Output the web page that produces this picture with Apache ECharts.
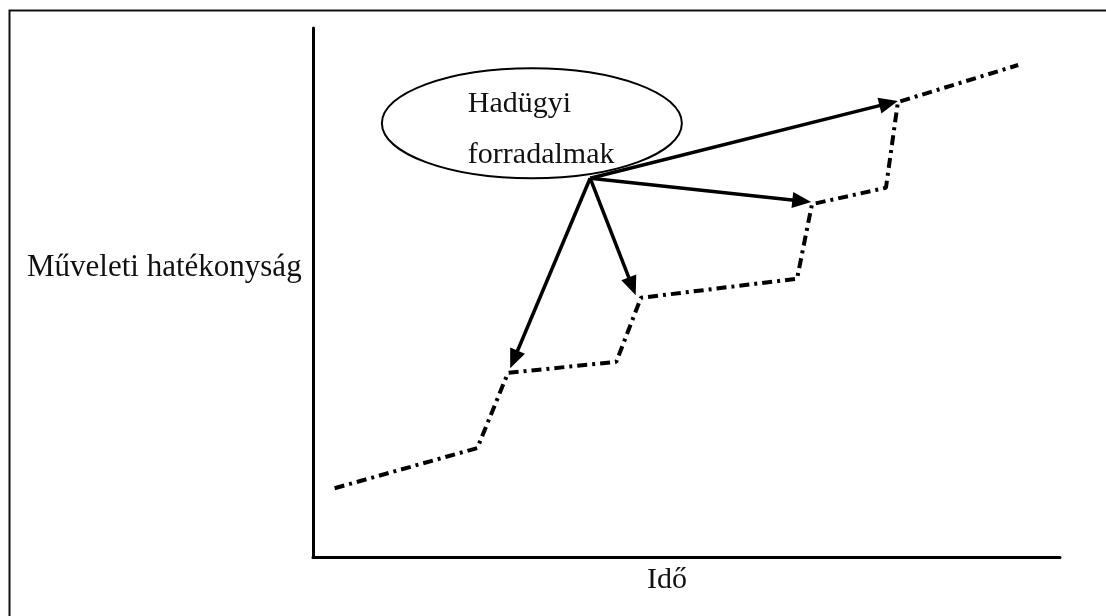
<!DOCTYPE html>
<html>
<head>
<meta charset="utf-8">
<script src="https://cdn.jsdelivr.net/npm/echarts@6/dist/echarts.min.js"></script>
<style>
  html, body { margin: 0; padding: 0; background: #fff; }
  #chart { width: 1106px; height: 616px; }
</style>
</head>
<body>
<div id="chart"></div>
<script>
// step line (dash-dot), in axis units 0..100
const stepX = [2.9, 22.0, 26.1, 40.6, 43.9, 64.8, 66.8, 76.7, 78.3, 94.4]
const stepY = [13.0, 20.6, 34.8, 36.9, 49.0, 52.6, 66.7, 69.8, 86.0, 93.0]

// arrows from the bubble down to each step
const arrowFrom = [37.1, 71.6]
const arrowToX = [78.3, 66.7, 43.2, 26.4]
const arrowToY = [86.2, 67.1, 49.5, 35.7]

// bubble
const bubbleCenter = [29.3, 82.0]
const bubbleLines = ['Hadügyi', 'forradalmak']

const yName = 'Műveleti hatékonyság'
const xName = 'Idő'

const serif = '"Liberation Serif", "Times New Roman", serif'

const myChart = echarts.init(document.getElementById('chart'))

const option = {
  backgroundColor: '#fff',
  animation: false,
  grid: {
    left: 313,
    top: 28,
    right: 46,
    bottom: 59,
    containLabel: false,
  },
  xAxis: {
    type: 'value',
    min: 0,
    max: 100,
    axisLine: { show: true, onZero: false, lineStyle: { color: '#000', width: 3 } },
    axisTick: { show: false },
    axisLabel: { show: false },
    splitLine: { show: false },
  },
  yAxis: {
    type: 'value',
    min: 0,
    max: 100,
    axisLine: { show: true, onZero: false, lineStyle: { color: '#000', width: 3 } },
    axisTick: { show: false },
    axisLabel: { show: false },
    splitLine: { show: false },
  },
  graphic: [
    {
      type: 'rect',
      shape: { x: 9.5, y: 10.5, width: 1300, height: 800 },
      style: { fill: 'none', stroke: '#111', lineWidth: 2 },
      silent: true,
    },
    {
      type: 'text',
      x: 27,
      y: 268,
      style: { text: yName, font: '31px ' + serif, fill: '#111', textVerticalAlign: 'middle' },
    },
    {
      type: 'text',
      x: 647,
      y: 580,
      style: { text: xName, font: '30px ' + serif, fill: '#111', textVerticalAlign: 'middle' },
    },
  ],
  series: [
    {
      type: 'line',
      data: stepX.map((x, i) => [x, stepY[i]]),
      showSymbol: false,
      lineStyle: { color: '#000', width: 4, type: [10, 5, 3, 5] },
      z: 2,
    },
    {
      // arrows: shaft + filled triangular head, tip exactly on the target point
      type: 'custom',
      coordinateSystem: 'cartesian2d',
      data: arrowToX.map((x, i) => [x, arrowToY[i]]),
      renderItem: (params, api) => {
        const p0 = api.coord(arrowFrom)
        const p1 = api.coord([api.value(0), api.value(1)])
        const dx = p1[0] - p0[0]
        const dy = p1[1] - p0[1]
        const len = Math.sqrt(dx * dx + dy * dy)
        const ux = dx / len
        const uy = dy / len
        const head = 19
        const half = 8
        const bx = p1[0] - ux * head
        const by = p1[1] - uy * head
        return {
          type: 'group',
          children: [
            {
              type: 'line',
              shape: { x1: p0[0], y1: p0[1], x2: bx + ux * 2, y2: by + uy * 2 },
              style: { stroke: '#000', lineWidth: 3.5 },
            },
            {
              type: 'polygon',
              shape: {
                points: [
                  [p1[0], p1[1]],
                  [bx - uy * half, by + ux * half],
                  [bx + uy * half, by - ux * half],
                ],
              },
              style: { fill: '#000' },
            },
          ],
        }
      },
      z: 3,
    },
    {
      type: 'custom',
      coordinateSystem: 'cartesian2d',
      data: [bubbleCenter],
      renderItem: (params, api) => {
        const c = api.coord([api.value(0), api.value(1)])
        return {
          type: 'group',
          children: [
            {
              type: 'ellipse',
              shape: { cx: c[0], cy: c[1], rx: 150, ry: 55 },
              style: { fill: 'none', stroke: '#000', lineWidth: 2 },
            },
            {
              type: 'text',
              x: c[0] - 64,
              y: c[1] - 19,
              style: { text: bubbleLines[0], font: '30px ' + serif, fill: '#111', textVerticalAlign: 'middle' },
            },
            {
              type: 'text',
              x: c[0] - 64,
              y: c[1] + 32,
              style: { text: bubbleLines[1], font: '30px ' + serif, fill: '#111', textVerticalAlign: 'middle' },
            },
          ],
        }
      },
      z: 4,
    },
  ],
}

myChart.setOption(option)
</script>
</body>
</html>
